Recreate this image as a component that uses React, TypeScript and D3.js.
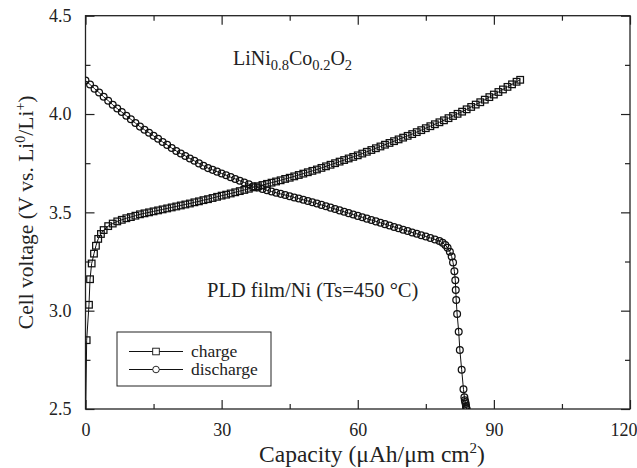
import React, { useEffect, useRef } from 'react'
import * as d3 from 'd3'

// capacity (uAh/um cm2), cell voltage (V)
const charge: [number, number][] = [
  [0, 2.4], [0.26, 2.85], [0.77, 3.03], [1.0, 3.16], [1.36, 3.24], [1.87, 3.29],
  [2.3, 3.33], [2.8, 3.365], [3.4, 3.39], [4, 3.41], [5, 3.43], [6, 3.443],
  [7, 3.454], [8, 3.462], [9, 3.47], [10, 3.476], [11, 3.483], [12, 3.49],
  [13, 3.495], [14, 3.5], [15, 3.505], [16, 3.51], [17, 3.515], [18, 3.52],
  [19, 3.525], [20, 3.53], [21, 3.535], [22, 3.54], [23, 3.545], [24, 3.551],
  [25, 3.556], [26, 3.562], [27, 3.567], [28, 3.573], [29, 3.579], [30, 3.585],
  [31, 3.59], [32, 3.596], [33, 3.602], [34, 3.608], [35, 3.614], [36, 3.62],
  [37, 3.627], [38, 3.633], [39, 3.639], [40, 3.645], [41, 3.651], [42, 3.657],
  [43, 3.663], [44, 3.67], [45, 3.676], [46, 3.683], [47, 3.69], [48, 3.697],
  [49, 3.704], [50, 3.711], [51, 3.718], [52, 3.726], [53, 3.734], [54, 3.742],
  [55, 3.75], [56, 3.758], [57, 3.766], [58, 3.774], [59, 3.782], [60, 3.79],
  [61, 3.799], [62, 3.808], [63, 3.817], [64, 3.826], [65, 3.835], [66, 3.844],
  [67, 3.853], [68, 3.862], [69, 3.871], [70, 3.88], [71, 3.889], [72, 3.898],
  [73, 3.908], [74, 3.918], [75, 3.928], [76, 3.938], [77, 3.948], [78, 3.958],
  [79, 3.968], [80, 3.979], [81, 3.99], [82, 4.001], [83, 4.012], [84, 4.024],
  [85, 4.036], [86, 4.048], [87, 4.06], [88, 4.073], [89, 4.086], [90, 4.099],
  [91, 4.112], [92, 4.125], [93, 4.138], [94, 4.151], [95, 4.164], [95.8, 4.174],
]

const discharge: [number, number][] = [
  [0, 4.17], [1, 4.15], [2, 4.129], [3, 4.109], [4, 4.088], [5, 4.068],
  [6, 4.047], [7, 4.028], [8, 4.01], [9, 3.991], [10, 3.973], [11, 3.954],
  [12, 3.936], [13, 3.92], [14, 3.905], [15, 3.889], [16, 3.874], [17, 3.858],
  [18, 3.843], [19, 3.827], [20, 3.812], [21, 3.799], [22, 3.787], [23, 3.774],
  [24, 3.762], [25, 3.749], [26, 3.737], [27, 3.725], [28, 3.716], [29, 3.707],
  [30, 3.698], [31, 3.689], [32, 3.679], [33, 3.67], [34, 3.661], [35, 3.652],
  [36, 3.643], [37, 3.633], [38, 3.626], [39, 3.619], [40, 3.612], [41, 3.606],
  [42, 3.6], [43, 3.594], [44, 3.588], [45, 3.582], [46, 3.576], [47, 3.57],
  [48, 3.564], [49, 3.558], [50, 3.551], [51, 3.545], [52, 3.538], [53, 3.531],
  [54, 3.524], [55, 3.517], [56, 3.51], [57, 3.503], [58, 3.496], [59, 3.489],
  [60, 3.482], [61, 3.475], [62, 3.468], [63, 3.461], [64, 3.454], [65, 3.447],
  [66, 3.44], [67, 3.433], [68, 3.426], [69, 3.419], [70, 3.412], [71, 3.405],
  [72, 3.398], [73, 3.391], [74, 3.384], [75, 3.377], [76, 3.37], [77, 3.362],
  [78, 3.354], [78.7, 3.345], [79.3, 3.334], [79.8, 3.32], [80.3, 3.3],
  [80.7, 3.275], [81.0, 3.245], [81.3, 3.2], [81.5, 3.155], [81.6, 3.105],
  [81.7, 3.054], [81.9, 2.983], [82.25, 2.893], [82.5, 2.8], [82.9, 2.7],
  [83.3, 2.6], [83.5, 2.56], [83.6, 2.545], [83.7, 2.535], [83.8, 2.525],
  [83.85, 2.515], [83.9, 2.508], [84.0, 2.5],
]

const seriesNames = ['charge', 'discharge']
const xTicks = [0, 30, 60, 90, 120]
const xMinorTicks = [15, 45, 75, 105]
const yTicks = [2.5, 3.0, 3.5, 4.0, 4.5]
const yMinorTicks = [2.75, 3.25, 3.75, 4.25]

const W = 637
const H = 468
const FONT = '"Liberation Serif", "Times New Roman", serif'

export default function App() {
  const ref = useRef<SVGSVGElement>(null)

  useEffect(() => {
    const svg = d3.select(ref.current)
    svg.selectAll('*').remove()

    /* plot frame */
    const left = 85.5, right = 630, top = 15.7, bottom = 409
    const x = d3.scaleLinear().domain([0, 120]).range([left, right])
    const y = d3.scaleLinear().domain([2.5, 4.5]).range([bottom, top])

    svg.append('defs').append('clipPath').attr('id', 'plotclip')
      .append('rect')
      .attr('x', left).attr('y', top)
      .attr('width', right - left).attr('height', bottom - top)

    /* axes, ticks inside */
    const addAxis = (axis: any, tx: number, ty: number, labels: boolean) => {
      const g = svg.append('g').attr('transform', `translate(${tx},${ty})`).call(axis)
      g.select('.domain').remove()
      g.selectAll('line').attr('stroke', '#222').attr('stroke-width', 1.2)
      g.selectAll('text')
        .attr('font-family', FONT).attr('font-size', 18).attr('fill', '#222')
      if (!labels) g.selectAll('text').remove()
      return g
    }
    const xg = addAxis(d3.axisBottom(x).tickValues(xTicks).tickSize(-9).tickPadding(14), 0, bottom, true)
    // last label sits flush with the right edge
    xg.selectAll('text').filter((d: any) => d === 120)
      .attr('text-anchor', 'end').attr('dx', 7)
    addAxis(d3.axisBottom(x).tickValues(xMinorTicks).tickSize(-5), 0, bottom, false)
    addAxis(d3.axisTop(x).tickValues(xTicks).tickSize(-9), 0, top, false)
    addAxis(d3.axisTop(x).tickValues(xMinorTicks).tickSize(-5), 0, top, false)
    addAxis(d3.axisLeft(y).tickValues(yTicks).tickSize(-9).tickPadding(14).tickFormat(d3.format('.1f')), left, 0, true)
    addAxis(d3.axisLeft(y).tickValues(yMinorTicks).tickSize(-5), left, 0, false)
    addAxis(d3.axisRight(y).tickValues(yTicks).tickSize(-9), right, 0, false)
    addAxis(d3.axisRight(y).tickValues(yMinorTicks).tickSize(-5), right, 0, false)

    svg.append('rect')
      .attr('x', left).attr('y', top)
      .attr('width', right - left).attr('height', bottom - top)
      .attr('fill', 'none').attr('stroke', '#222').attr('stroke-width', 1.3)

    /* curves */
    const plot = svg.append('g').attr('clip-path', 'url(#plotclip)')
    const line = d3.line<[number, number]>().x(d => x(d[0])).y(d => y(d[1]))

    plot.append('path').datum(charge).attr('d', line)
      .attr('fill', 'none').attr('stroke', '#111').attr('stroke-width', 1)
    plot.append('path').datum(discharge).attr('d', line)
      .attr('fill', 'none').attr('stroke', '#111').attr('stroke-width', 1)

    const s = 6.6
    plot.selectAll('.sq').data(charge).enter().append('rect')
      .attr('class', 'sq')
      .attr('x', d => x(d[0]) - s / 2).attr('y', d => y(d[1]) - s / 2)
      .attr('width', s).attr('height', s)
      .attr('fill', 'none').attr('stroke', '#111').attr('stroke-width', 1.25)
    plot.selectAll('.ci').data(discharge).enter().append('circle')
      .attr('class', 'ci')
      .attr('cx', d => x(d[0])).attr('cy', d => y(d[1])).attr('r', 3.4)
      .attr('fill', 'none').attr('stroke', '#111').attr('stroke-width', 1.25)

    /* axis titles */
    const xt = svg.append('text')
      .attr('x', 372).attr('y', 462)
      .attr('text-anchor', 'middle')
      .attr('font-family', FONT).attr('font-size', 23.5).attr('fill', '#222')
    xt.append('tspan').text('Capacity (μAh/μm cm')
    xt.append('tspan').attr('dy', -9).attr('font-size', 15).text('2')
    xt.append('tspan').attr('dy', 9).text(')')

    const yt = svg.append('text')
      .attr('transform', `translate(33,${(top + bottom) / 2}) rotate(-90)`)
      .attr('text-anchor', 'middle')
      .attr('font-family', FONT).attr('font-size', 21.5).attr('fill', '#222')
    yt.append('tspan').text('Cell voltage (V vs. Li')
    yt.append('tspan').attr('dy', -8).attr('font-size', 14).text('0')
    yt.append('tspan').attr('dy', 8).text('/Li')
    yt.append('tspan').attr('dy', -8).attr('font-size', 14).text('+')
    yt.append('tspan').attr('dy', 8).text(')')

    /* annotations */
    const formula = svg.append('text')
      .attr('x', 233).attr('y', 65)
      .attr('font-family', FONT).attr('font-size', 20).attr('fill', '#222')
    const parts: [string, boolean][] = [['LiNi', false], ['0.8', true], ['Co', false], ['0.2', true], ['O', false], ['2', true]]
    parts.forEach(([t, sub], i) => {
      formula.append('tspan')
        .attr('dy', i === 0 ? 0 : sub ? 5 : -5)
        .attr('font-size', sub ? 14.5 : 20)
        .text(t)
    })

    svg.append('text')
      .attr('x', 207).attr('y', 297)
      .attr('font-family', FONT).attr('font-size', 20.5).attr('fill', '#222')
      .text('PLD film/Ni (Ts=450 °C)')

    /* legend */
    const lg = svg.append('g')
    lg.append('rect')
      .attr('x', 117).attr('y', 332).attr('width', 154).attr('height', 54)
      .attr('fill', '#fff').attr('stroke', '#222').attr('stroke-width', 1)
    seriesNames.forEach((name, i) => {
      const ly = 351.5 + i * 18
      lg.append('line').attr('x1', 129).attr('x2', 183).attr('y1', ly).attr('y2', ly)
        .attr('stroke', '#111').attr('stroke-width', 1)
      if (i === 0) {
        lg.append('rect').attr('x', 156 - s / 2).attr('y', ly - s / 2)
          .attr('width', s).attr('height', s)
          .attr('fill', '#fff').attr('stroke', '#111').attr('stroke-width', 0.9)
      } else {
        lg.append('circle').attr('cx', 156).attr('cy', ly).attr('r', 3.3)
          .attr('fill', '#fff').attr('stroke', '#111').attr('stroke-width', 0.9)
      }
      lg.append('text').attr('x', 191).attr('y', ly + 5)
        .attr('font-family', FONT).attr('font-size', 17.5).attr('fill', '#222')
        .text(name)
    })
  }, [])

  return (
    <svg ref={ref} width={W} height={H} viewBox={`0 0 ${W} ${H}`}
      style={{ position: 'absolute', left: 0, top: 0, background: '#fff' }} />
  )
}
